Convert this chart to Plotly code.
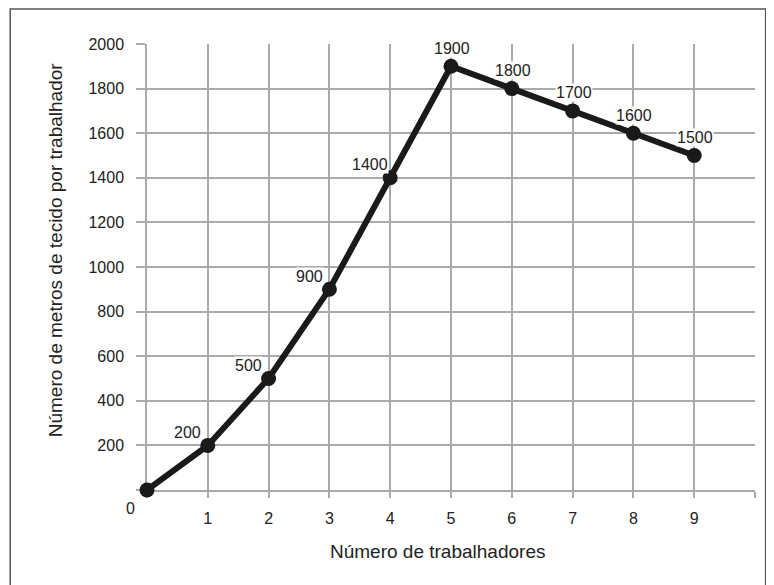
import plotly.graph_objects as go

workers = [0, 1, 2, 3, 4, 5, 6, 7, 8, 9]
meters = [0, 200, 500, 900, 1400, 1900, 1800, 1700, 1600, 1500]
x_ticks = list(range(0, 11))
x_ticktext = [""] + [str(v) for v in range(1, 10)] + [""]
y_ticks = list(range(0, 2001, 200))
y_ticktext = [""] + [str(v) for v in range(200, 2001, 200)]

FONT = "Liberation Sans, Arial, sans-serif"
GRID = "#aaaaaa"
TXT = "#222222"

fig = go.Figure()
fig.add_trace(go.Scatter(
    x=workers, y=meters, mode="lines+markers",
    line=dict(color="#1a1a1a", width=6),
    marker=dict(color="#1a1a1a", size=15),
    cliponaxis=False, hoverinfo="skip", showlegend=False,
))

annotations = []
for i, (xv, yv) in enumerate(zip(workers, meters)):
    if yv == 0:
        continue
    rising = i < len(meters) - 1 and meters[i + 1] > yv
    annotations.append(dict(
        x=xv, y=yv, xref="x", yref="y", text=str(yv), showarrow=False,
        xshift=-20 if rising else 1, yshift=13 if rising else 18,
        font=dict(family=FONT, size=16, color=TXT),
        bgcolor="white", borderpad=0,
    ))

# origin "0" label
annotations.append(dict(x=0, y=0, xref="x", yref="y", text="0", showarrow=False,
                        xshift=-17, yshift=-18,
                        font=dict(family=FONT, size=16, color=TXT)))
# axis titles
annotations.append(dict(x=0.477, y=-0.137, xref="paper", yref="paper",
                        text="Número de trabalhadores", showarrow=False,
                        xanchor="center", yanchor="middle",
                        font=dict(family=FONT, size=19, color=TXT)))
annotations.append(dict(x=-0.151, y=0.538, xref="paper", yref="paper",
                        text="Número de metros de tecido por trabalhador", showarrow=False,
                        textangle=-90, xanchor="center", yanchor="middle",
                        font=dict(family=FONT, size=19, color=TXT)))

fig.update_layout(
    width=774, height=585,
    margin=dict(l=139, r=27, t=36, b=103),
    paper_bgcolor="white", plot_bgcolor="white",
    annotations=annotations,
    shapes=[dict(type="rect", xref="paper", yref="paper",
                 x0=-0.225, x1=1.0175, y0=-0.25, y1=1.0785,
                 line=dict(color="#555555", width=1.5), layer="below")],
)
fig.update_xaxes(
    range=[0, 10], tickvals=x_ticks, ticktext=x_ticktext,
    showgrid=True, gridcolor=GRID, gridwidth=1.5,
    showline=True, linecolor=GRID, linewidth=1.5, mirror=False,
    ticks="outside", ticklen=6, tickcolor=GRID, tickwidth=2,
    ticklabelstandoff=7, layer="below traces",
    tickfont=dict(family=FONT, size=16, color=TXT),
    zeroline=False, fixedrange=True,
)
fig.update_yaxes(
    range=[0, 2000], tickvals=y_ticks, ticktext=y_ticktext,
    showgrid=True, gridcolor=GRID, gridwidth=1.5,
    showline=True, linecolor=GRID, linewidth=1.5,
    ticks="outside", ticklen=9, tickcolor=GRID, tickwidth=1.5,
    ticklabelstandoff=9, layer="below traces",
    tickfont=dict(family=FONT, size=16, color=TXT),
    zeroline=False, fixedrange=True,
)

fig.write_html("out.html")
